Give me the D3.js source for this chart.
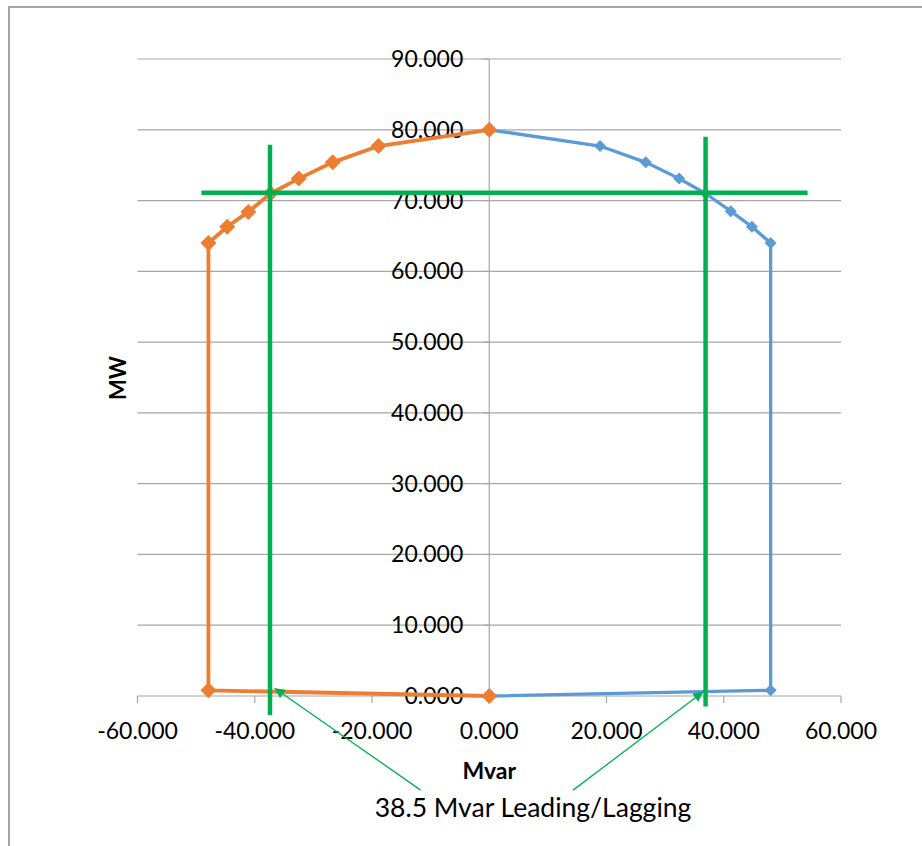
<!DOCTYPE html>
<html>
<head>
<meta charset="utf-8">
<script src="https://cdn.jsdelivr.net/npm/d3@7"></script>
<style>
  body { margin: 0; background: #fff; }
  svg text { font-family: Lato, "Open Sans", sans-serif; fill: #000; }
</style>
</head>
<body>
<div id="plot"></div>
<script>
  // capability curve, lagging side (blue)
  var mvarLag = [0, 18.9, 26.7, 32.4, 36.9, 41.2, 44.8, 48.0, 48.0, 0];
  var mwLag   = [80, 77.7, 75.4, 73.1, 71.0, 68.5, 66.3, 64.0, 0.8, 0];
  // leading side (orange)
  var mvarLead = [0, -18.9, -26.7, -32.5, -37.3, -41.1, -44.7, -47.9, -47.9, 0];
  var mwLead   = [80, 77.7, 75.4, 73.1, 71.0, 68.4, 66.3, 64.0, 0.8, 0];

  var xTicks = [-60, -40, -20, 0, 20, 40, 60];
  var yTicks = [0, 10, 20, 30, 40, 50, 60, 70, 80, 90];

  // green limit lines drawn on the chart
  var limitMw = 71.1;
  var limitMwFrom = -49.1, limitMwTo = 54.3;
  var limitLead = -37.4, limitLag = 36.9;
  var leadSpan = [-2.7, 77.9], lagSpan = [-1.5, 79.0];
  var note = "38.5 Mvar Leading/Lagging";

  var W = 922, H = 846;
  var svg = d3.select("#plot").append("svg")
      .attr("width", W).attr("height", H);

  var x = d3.scaleLinear().domain([-60, 60]).range([137.5, 841]);
  var y = d3.scaleLinear().domain([0, 90]).range([696, 59]);

  // chart frame (only top and left visible)
  svg.append("path")
    .attr("d", "M9,846 L9,7 L922,7")
    .attr("fill", "none").attr("stroke", "#a6a6a6").attr("stroke-width", 2);

  // horizontal gridlines
  svg.selectAll(".grid").data(yTicks).enter().append("line")
    .attr("x1", x(-60)).attr("x2", x(60))
    .attr("y1", function(d) { return y(d); }).attr("y2", function(d) { return y(d); })
    .attr("stroke", "#a6a6a6").attr("stroke-width", 1.2);

  // vertical axis at x = 0
  svg.append("line")
    .attr("x1", x(0)).attr("x2", x(0)).attr("y1", y(0)).attr("y2", y(90))
    .attr("stroke", "#a6a6a6").attr("stroke-width", 1.2);
  svg.selectAll(".ytick").data(yTicks).enter().append("line")
    .attr("x1", x(0) - 6).attr("x2", x(0))
    .attr("y1", function(d) { return y(d); }).attr("y2", function(d) { return y(d); })
    .attr("stroke", "#a6a6a6").attr("stroke-width", 1.2);

  // x axis ticks
  svg.selectAll(".xtick").data(xTicks).enter().append("line")
    .attr("x1", function(d) { return x(d); }).attr("x2", function(d) { return x(d); })
    .attr("y1", y(0)).attr("y2", y(0) + 7)
    .attr("stroke", "#a6a6a6").attr("stroke-width", 1.2);

  var fmt = d3.format(".3f");

  svg.selectAll(".ylab").data(yTicks).enter().append("text")
    .attr("x", x(0) - 26).attr("y", function(d) { return y(d) + 8; })
    .attr("text-anchor", "end").attr("font-size", 23)
    .text(function(d) { return fmt(d); });

  svg.selectAll(".xlab").data(xTicks).enter().append("text")
    .attr("x", function(d) { return x(d); }).attr("y", 739)
    .attr("text-anchor", "middle").attr("font-size", 23)
    .text(function(d) { return d < 0 ? "-" + fmt(-d) : fmt(d); });

  svg.append("text")
    .attr("x", x(0)).attr("y", 779)
    .attr("text-anchor", "middle").attr("font-size", 23).attr("font-weight", "bold")
    .text("Mvar");

  svg.append("text")
    .attr("transform", "translate(126,378) rotate(-90)")
    .attr("text-anchor", "middle").attr("font-size", 22).attr("font-weight", "bold")
    .text("MW");

  var line = d3.line()
    .x(function(d) { return x(d[0]); })
    .y(function(d) { return y(d[1]); });

  function diamond(r) {
    return "M0," + (-r) + "L" + r + ",0L0," + r + "L" + (-r) + ",0Z";
  }

  function series(xs, ys, color, lw, r) {
    var pts = d3.zip(xs, ys);
    svg.append("path").datum(pts)
      .attr("d", line)
      .attr("fill", "none").attr("stroke", color)
      .attr("stroke-width", lw).attr("stroke-linejoin", "round");
    svg.selectAll(null).data(pts).enter().append("path")
      .attr("transform", function(d) { return "translate(" + x(d[0]) + "," + y(d[1]) + ")"; })
      .attr("d", diamond(r))
      .attr("fill", color);
  }

  series(mvarLag, mwLag, "#5b9bd5", 3.3, 6);
  series(mvarLead, mwLead, "#ed7d31", 3.8, 8);

  // green limit lines
  var green = "#00b050";
  svg.append("line")
    .attr("x1", x(limitMwFrom)).attr("x2", x(limitMwTo))
    .attr("y1", y(limitMw)).attr("y2", y(limitMw))
    .attr("stroke", green).attr("stroke-width", 4.5);
  svg.append("line")
    .attr("x1", x(limitLead)).attr("x2", x(limitLead))
    .attr("y1", y(leadSpan[0])).attr("y2", y(leadSpan[1]))
    .attr("stroke", green).attr("stroke-width", 4.5);
  svg.append("line")
    .attr("x1", x(limitLag)).attr("x2", x(limitLag))
    .attr("y1", y(lagSpan[0])).attr("y2", y(lagSpan[1]))
    .attr("stroke", green).attr("stroke-width", 4.5);

  // annotation arrows
  svg.append("defs").append("marker")
    .attr("id", "arr").attr("viewBox", "0 0 10 10")
    .attr("refX", 10).attr("refY", 5)
    .attr("markerWidth", 12).attr("markerHeight", 10)
    .attr("markerUnits", "userSpaceOnUse")
    .attr("orient", "auto")
    .append("path").attr("d", "M0,0L10,5L0,10Z").attr("fill", green);

  var arrows = [[-11.7, -13.3, -36.6, 1.1], [14.3, -13.3, 36.5, 0.6]];
  svg.selectAll(".arrow").data(arrows).enter().append("line")
    .attr("x1", function(d) { return x(d[0]); }).attr("y1", function(d) { return y(d[1]); })
    .attr("x2", function(d) { return x(d[2]); }).attr("y2", function(d) { return y(d[3]); })
    .attr("stroke", green).attr("stroke-width", 1.3)
    .attr("marker-end", "url(#arr)");

  svg.append("text")
    .attr("x", 533).attr("y", 817)
    .attr("text-anchor", "middle").attr("font-size", 26.5)
    .text(note);
</script>
</body>
</html>
